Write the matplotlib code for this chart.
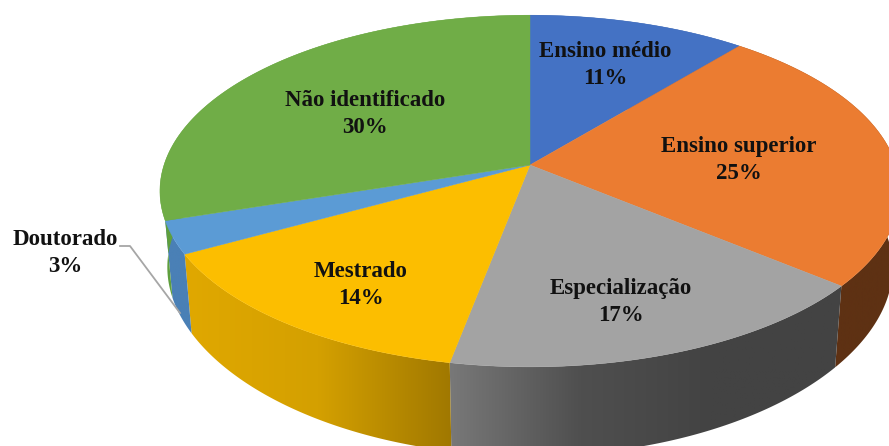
"""3D-look pie chart of education levels."""

import numpy as np
import matplotlib
matplotlib.use("Agg")
import matplotlib.pyplot as plt
from matplotlib.colors import LinearSegmentedColormap
from matplotlib.patches import Polygon

labels = ["Ensino médio", "Ensino superior", "Especialização", "Mestrado", "Doutorado", "Não identificado"]
values = [11, 25, 17, 14, 3, 30]
top_colors = ["#4472C4", "#EB7C31", "#A3A3A3", "#FCBE00", "#5B9BD5", "#70AD47"]
wall_colors = [
    ["#2f5597", "#2f5597"],
    ["#5e3113", "#5e3113"],
    ["#787878", "#4f4f4f", "#434343", "#434343"],
    ["#e0a800", "#d4a000", "#a07800"],
    ["#4a80b6", "#4a80b6"],
    ["#5f9f3d", "#66a440"],
]
label_xy = [(605, 65), (739, 160), (621, 302), (361, 285), (65, 253), (365, 114)]

CX, CY = 530, 165
A, B, K = 366, 172, 0.148
SHRINK = 0.98


def project(theta):
    # theta clockwise from 12 o'clock, far side squeezed for perspective
    u, v = np.sin(theta), np.cos(theta)
    w = 1 + K * v
    return CX + A * u / w, CY - B * v / w


def lower(theta):
    # bottom rim: a bit narrower, and deeper towards the viewer
    x, y = project(theta)
    return CX + SHRINK * (x - CX), y + 76 + 13 * np.cos(theta) ** 2


fig = plt.figure(figsize=(8.89, 4.46), dpi=100)
ax = fig.add_axes([0, 0, 1, 1])
ax.set_xlim(0, 889)
ax.set_ylim(446, 0)
ax.axis("off")

edges = np.radians(np.cumsum([0] + values) * 3.6)

# side walls first, tops painted over them
for i in range(len(values)):
    t = np.linspace(edges[i], edges[i + 1], 120)
    x, y = project(t)
    xb, yb = lower(t)
    pts = np.column_stack([np.r_[x, xb[::-1]], np.r_[y, yb[::-1]]])
    poly = Polygon(pts, closed=True, facecolor="none", edgecolor="none", transform=ax.transData)
    ax.add_patch(poly)
    cmap = LinearSegmentedColormap.from_list(f"wall{i}", wall_colors[i])
    im = ax.imshow(
        np.linspace(0, 1, 256).reshape(1, -1),
        cmap=cmap,
        aspect="auto",
        extent=(pts[:, 0].min(), pts[:, 0].max(), pts[:, 1].max(), pts[:, 1].min()),
        zorder=2,
    )
    im.set_clip_path(poly)

for i in range(len(values)):
    t = np.linspace(edges[i], edges[i + 1], 120)
    x, y = project(t)
    pts = np.column_stack([np.r_[CX, x], np.r_[CY, y]])
    ax.add_patch(Polygon(pts, closed=True, facecolor=top_colors[i], edgecolor=top_colors[i], linewidth=0.3, zorder=3))

ax.set_xlim(0, 889)
ax.set_ylim(446, 0)

# leader line for the small slice
ax.plot([120, 130, 180], [246, 246, 313], color="#a6a6a6", linewidth=1.3, zorder=4)

for name, val, (lx, ly) in zip(labels, values, label_xy):
    ax.text(
        lx, ly, f"{name}\n{val}%",
        ha="center", va="center", fontsize=16.5, fontweight="bold",
        family="Liberation Serif", color="#111111", linespacing=1.42, zorder=5,
    )

fig.savefig("out.png", dpi=100)
